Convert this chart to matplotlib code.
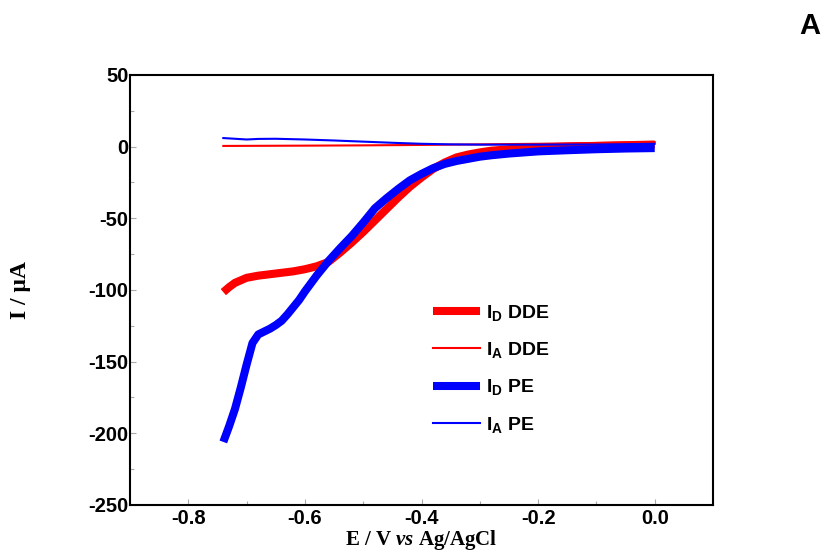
import matplotlib
matplotlib.use("Agg")
import matplotlib.pyplot as plt
from matplotlib.ticker import MultipleLocator

plt.rcParams['mathtext.fontset'] = 'custom'
plt.rcParams['mathtext.rm'] = 'Liberation Sans:bold'
plt.rcParams['mathtext.it'] = 'Liberation Serif:italic:bold'
plt.rcParams['mathtext.bf'] = 'Liberation Sans:bold'
plt.rcParams['mathtext.default'] = 'rm'

# ---- data ----
x_id_dde = [-0.74, -0.73, -0.72, -0.70, -0.68, -0.66, -0.64, -0.62, -0.60, -0.58,
            -0.56, -0.54, -0.52, -0.50, -0.48, -0.46, -0.44, -0.42, -0.40, -0.38,
            -0.36, -0.34, -0.32, -0.30, -0.28, -0.25, -0.20, -0.15, -0.10, -0.05, 0.00]
y_id_dde = [-101.5, -98, -95, -91.5, -90, -89, -88, -87, -85.5, -83.5,
            -80.5, -74, -67, -59.5, -51.5, -43.5, -35.5, -28, -21.5, -15.5,
            -11, -7.5, -5.5, -4, -2.8, -1.8, -0.6, 0, 0.5, 1, 1.5]

x_id_pe = [-0.74, -0.73, -0.72, -0.71, -0.70, -0.69, -0.68, -0.67, -0.66, -0.65,
           -0.64, -0.63, -0.62, -0.61, -0.60, -0.58, -0.56, -0.54, -0.52, -0.50,
           -0.48, -0.46, -0.44, -0.42, -0.40, -0.38, -0.36, -0.34, -0.32, -0.30,
           -0.28, -0.25, -0.20, -0.15, -0.10, -0.05, 0.00]
y_id_pe = [-206, -195, -183, -168, -152, -137, -131, -129, -127, -124.5,
           -121.5, -117, -112, -107, -101, -90, -80, -71, -62.5, -53,
           -43, -36, -29.5, -23.5, -19, -15, -12, -10, -8.5, -7,
           -6, -4.8, -3.3, -2.5, -1.8, -1.3, -1]

x_ia_dde = [-0.74, -0.60, -0.50, -0.40, -0.30, -0.20, -0.10, 0.00]
y_ia_dde = [0.5, 0.7, 0.9, 1.2, 1.6, 2.0, 2.6, 3.2]

x_ia_pe = [-0.74, -0.72, -0.70, -0.68, -0.65, -0.60, -0.55, -0.50, -0.45, -0.40,
           -0.35, -0.30, -0.20, -0.10, 0.00]
y_ia_pe = [6.0, 5.5, 5.0, 5.4, 5.5, 5.0, 4.3, 3.5, 2.7, 2.0,
           1.6, 1.4, 1.4, 1.5, 2.0]

xticks = [-0.8, -0.6, -0.4, -0.2, 0.0]
yticks = [50, 0, -50, -100, -150, -200, -250]

fig = plt.figure(figsize=(8.22, 5.53), dpi=100)
ax = fig.add_axes([0.1582, 0.0868, 0.7092, 0.7776])

ax.plot(x_id_dde, y_id_dde, color='#ff0000', lw=5.8, label=r'I$_\mathrm{D}$ DDE', solid_capstyle='butt')
ax.plot(x_ia_dde, y_ia_dde, color='#ff0000', lw=1.5, label=r'I$_\mathrm{A}$ DDE')
ax.plot(x_id_pe, y_id_pe, color='#0000ff', lw=5.8, label=r'I$_\mathrm{D}$ PE', solid_capstyle='butt')
ax.plot(x_ia_pe, y_ia_pe, color='#0000ff', lw=1.5, label=r'I$_\mathrm{A}$ PE')

ax.set_xlim(-0.9, 0.1)
ax.set_ylim(-250, 50)
ax.set_xticks(xticks)
ax.set_xticklabels([f'{v:.1f}' for v in xticks])
ax.set_yticks(yticks)
ax.set_yticklabels([str(v) for v in yticks])
ax.xaxis.set_minor_locator(MultipleLocator(0.1))
ax.yaxis.set_minor_locator(MultipleLocator(25))

for lab in ax.get_xticklabels() + ax.get_yticklabels():
    lab.set_fontfamily('Liberation Sans')
    lab.set_fontweight('bold')
    lab.set_fontsize(14.5)

ax.tick_params(which='both', direction='in', color='#aaaaaa', width=0.8)
ax.tick_params(which='major', length=4)
ax.tick_params(which='minor', length=3)
ax.tick_params(axis='x', pad=3)
ax.tick_params(axis='y', pad=1)
for s in ax.spines.values():
    s.set_linewidth(1.5)

ax.set_xlabel(r'E / V $\mathit{vs}$ Ag/AgCl', fontfamily='Liberation Serif',
              fontweight='bold', fontsize=15, labelpad=0)
ax.set_ylabel('I / μA', fontfamily='Liberation Serif', fontweight='bold',
              fontsize=17, labelpad=0)
ax.yaxis.set_label_coords(-0.17, 0.5)

leg = ax.legend(loc='upper left', bbox_to_anchor=(0.49, 0.51), frameon=False,
                handlelength=2.4, handletextpad=0.3, labelspacing=0.88,
                prop={'family': 'Liberation Sans', 'weight': 'bold', 'size': 14})

fig.text(0.9976, 0.953, 'A', fontfamily='Liberation Sans', fontweight='bold',
         fontsize=21, ha='right', va='center')

fig.savefig('out.png', dpi=100)
